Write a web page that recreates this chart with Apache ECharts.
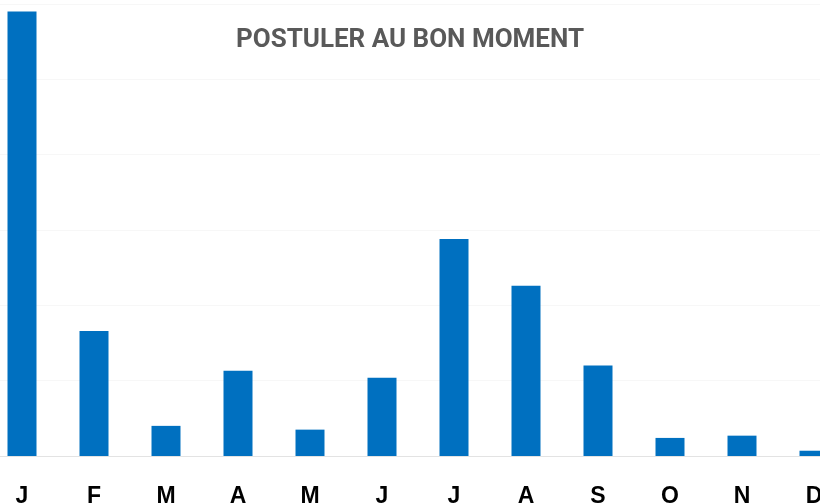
<!DOCTYPE html>
<html>
<head>
<meta charset="utf-8">
<script src="https://cdn.jsdelivr.net/npm/echarts@6/dist/echarts.min.js"></script>
<style>
  html, body { margin: 0; padding: 0; background: #fff; }
  #chart { width: 820px; height: 504px; }
</style>
</head>
<body>
<div id="chart"></div>
<script>
const months = ['J', 'F', 'M', 'A', 'M', 'J', 'J', 'A', 'S', 'O', 'N', 'D'];
const values = [59.0, 16.6, 4.0, 11.3, 3.5, 10.4, 28.8, 22.6, 12.0, 2.4, 2.7, 0.7];

var chart = echarts.init(document.getElementById('chart'));

chart.setOption({
  animation: false,
  title: {
    text: 'POSTULER AU BON MOMENT',
    left: 'center',
    top: 22,
    textStyle: {
      fontFamily: 'Roboto',
      fontWeight: 'bold',
      fontSize: 26,
      color: '#595959'
    }
  },
  // bands are 72px wide, the first one starts off-canvas
  grid: { left: -14, width: 864, top: 4, bottom: 48, outerBoundsMode: 'none', containLabel: false },
  xAxis: {
    type: 'category',
    data: months,
    axisTick: { show: false },
    axisLine: { lineStyle: { color: '#e3e3e3', width: 1 } },
    axisLabel: {
      margin: 29,
      color: '#000',
      fontFamily: 'Liberation Sans',
      fontWeight: 'bold',
      fontSize: 23
    }
  },
  yAxis: {
    type: 'value',
    min: 0,
    max: 60,
    interval: 10,
    axisLabel: { show: false },
    axisLine: { show: false },
    axisTick: { show: false },
    splitLine: { lineStyle: { color: '#f7f7f7' } }
  },
  series: [{
    type: 'bar',
    data: values,
    barWidth: 29,
    itemStyle: { color: '#0070C0' }
  }]
});
</script>
</body>
</html>
